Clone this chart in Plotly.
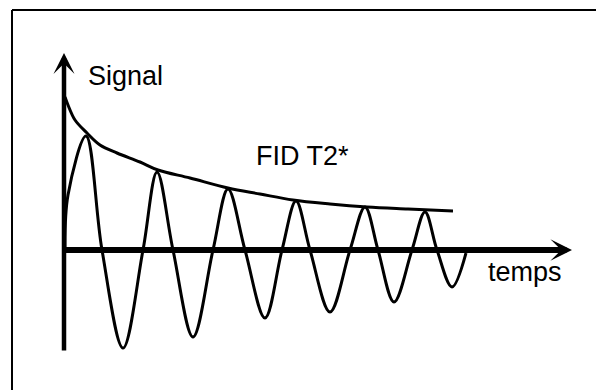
"""FID T2* schematic: free induction decay under its T2* envelope."""
import plotly.graph_objects as go

# Oscillating FID signal (time units from the origin, signal amplitude)
fid_t = [1, 4, 22, 38, 59, 79, 93, 109, 129, 149, 164, 181, 201, 218,
         232, 246, 266, 286, 301, 314, 330, 348, 361, 373, 388, 402]
fid_s = [0, 55, 114, 0, -98, 0, 78, 0, -87, 0, 61, 0, -68, 0,
         49, 0, -62, 0, 43, 0, -52, 0, 38, 0, -37, -3]

# T2* decay envelope
env_t = [1, 4, 11, 23, 36, 53, 76, 94, 126, 164, 196, 229, 266, 303, 344, 389]
env_s = [153, 145, 130, 117, 105, 97, 88, 80, 72, 62, 56, 50, 46, 43, 41, 39]

# axis extents (arrow tips / tails)
T_TIP = 508
S_TIP = 197
S_TAIL = -102

FONT = "Liberation Sans, Arial, sans-serif"
PAGE_OFFSET = 8  # the page body margin pushes the figure down/right

fig = go.Figure()

fig.add_trace(go.Scatter(
    x=fid_t, y=fid_s,
    mode="lines",
    line=dict(color="black", width=3, shape="spline", smoothing=1),
    hoverinfo="skip",
    showlegend=False,
))

fig.add_trace(go.Scatter(
    x=env_t, y=env_s,
    mode="lines",
    line=dict(color="black", width=3, shape="spline", smoothing=1),
    hoverinfo="skip",
    showlegend=False,
))

# axes drawn as arrows
fig.add_annotation(
    x=0, y=S_TIP, ax=0, ay=S_TAIL, axref="x", ayref="y",
    text="", showarrow=True, arrowhead=3, arrowwidth=4.5, arrowsize=0.78,
    arrowcolor="black",
)
fig.add_annotation(
    x=T_TIP, y=0, ax=0, ay=0, axref="x", ayref="y",
    text="", showarrow=True, arrowhead=3, arrowwidth=6, arrowsize=0.6,
    arrowcolor="black",
)

# labels
labels = [("Signal", 22, 174), ("FID T2*", 190, 94), ("temps", 422, -22)]
for txt, tx, sy in labels:
    fig.add_annotation(
        x=tx, y=sy, text=txt, showarrow=False,
        xanchor="left", yanchor="middle",
        font=dict(family=FONT, size=27, color="black"),
    )

# frame (only top and left edges fall inside the picture)
fx = (12 - PAGE_OFFSET) / 604
fy = 1 - (10 - PAGE_OFFSET) / 390
fig.add_shape(type="line", xref="paper", yref="paper",
              x0=fx, x1=1, y0=fy, y1=fy,
              line=dict(color="black", width=2))
fig.add_shape(type="line", xref="paper", yref="paper",
              x0=fx, x1=fx, y0=0, y1=fy,
              line=dict(color="black", width=2))

fig.update_layout(
    width=604, height=390,
    margin=dict(l=0, r=0, t=0, b=0),
    paper_bgcolor="white",
    plot_bgcolor="white",
    xaxis=dict(range=[-64 + PAGE_OFFSET, 540 + PAGE_OFFSET],
               visible=False, fixedrange=True),
    yaxis=dict(range=[-140 - PAGE_OFFSET, 250 - PAGE_OFFSET],
               visible=False, fixedrange=True),
    hovermode=False,
)

fig.write_html("out.html")
